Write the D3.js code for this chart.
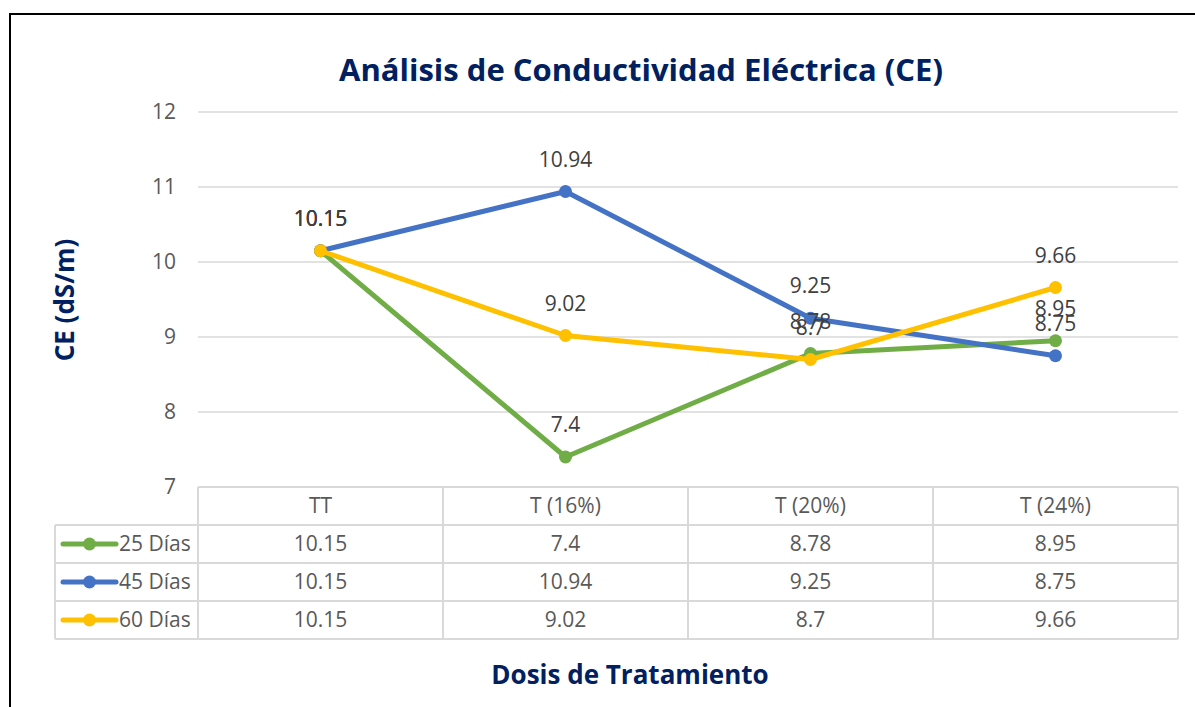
<!DOCTYPE html>
<html>
<head>
<meta charset="utf-8">
<script src="https://cdn.jsdelivr.net/npm/d3@7"></script>
<style>
  html, body { margin: 0; padding: 0; background: #fff; }
  svg { display: block; }
</style>
</head>
<body>
<svg id="chart" width="1195" height="707"></svg>
<script>
(() => {
  const categories = ['TT', 'T (16%)', 'T (20%)', 'T (24%)'];
  const seriesNames = ['25 Días', '45 Días', '60 Días'];
  const colors = ['#70AD47', '#4472C4', '#FFC000'];
  const dias25 = [10.15, 7.4, 8.78, 8.95];
  const dias45 = [10.15, 10.94, 9.25, 8.75];
  const dias60 = [10.15, 9.02, 8.7, 9.66];
  const yTicks = [7, 8, 9, 10, 11, 12];

  const series = [dias25, dias45, dias60].map((values, i) => ({
    name: seriesNames[i], color: colors[i], values
  }));

  const svg = d3.select('#chart');
  const font = '"Open Sans", sans-serif';
  const titleFont = '"Open Sans", sans-serif';
  const navy = '#002060';
  const gridColor = '#d9d9d9';
  const fs = 21;

  // outer frame (only top & left visible in the picture)
  svg.append('path')
    .attr('d', 'M10,707 V14 H1195')
    .attr('fill', 'none')
    .attr('stroke', '#000')
    .attr('stroke-width', 2);

  const left = 198, right = 1178, top = 112, bottom = 487;
  const rowH = 38;
  const legendLeft = 55;

  const x = d3.scaleBand().domain(categories).range([left, right]);
  const y = d3.scaleLinear().domain([7, 12]).range([bottom, top]);

  // gridlines
  svg.append('g')
    .selectAll('line')
    .data(yTicks)
    .join('line')
    .attr('x1', left).attr('x2', right)
    .attr('y1', d => y(d)).attr('y2', d => y(d))
    .attr('stroke', gridColor)
    .attr('stroke-width', 1.5);

  // y tick labels
  const yAxis = svg.append('g')
    .attr('transform', `translate(${left - 22},0)`)
    .call(d3.axisLeft(y).tickValues(yTicks).tickFormat(d3.format('d')).tickSize(0).tickPadding(0));
  yAxis.select('.domain').remove();
  yAxis.selectAll('text')
    .attr('font-family', font)
    .attr('font-size', fs)
    .attr('fill', '#595959');

  // data table
  const table = svg.append('g').attr('stroke', gridColor).attr('stroke-width', 2).attr('fill', 'none');
  const tableBottom = bottom + rowH * 4;
  table.append('line').attr('x1', left).attr('x2', right).attr('y1', bottom).attr('y2', bottom);
  for (let r = 1; r <= 4; r++) {
    table.append('line')
      .attr('x1', legendLeft).attr('x2', right)
      .attr('y1', bottom + rowH * r).attr('y2', bottom + rowH * r);
  }
  table.append('line').attr('x1', legendLeft).attr('x2', legendLeft)
    .attr('y1', bottom + rowH).attr('y2', tableBottom);
  categories.forEach(c => {
    table.append('line').attr('x1', x(c)).attr('x2', x(c))
      .attr('y1', bottom).attr('y2', tableBottom);
  });
  table.append('line').attr('x1', right).attr('x2', right)
    .attr('y1', bottom).attr('y2', tableBottom);

  // header
  svg.append('g')
    .selectAll('text')
    .data(categories)
    .join('text')
    .attr('x', d => x(d) + x.bandwidth() / 2)
    .attr('y', bottom + rowH / 2)
    .attr('dy', '0.35em')
    .attr('text-anchor', 'middle')
    .attr('font-family', font)
    .attr('font-size', fs)
    .attr('fill', '#595959')
    .text(d => d);

  // rows
  series.forEach((s, i) => {
    const cy = bottom + rowH * (i + 1) + rowH / 2;
    const g = svg.append('g');
    g.append('line')
      .attr('x1', 63).attr('x2', 116).attr('y1', cy).attr('y2', cy)
      .attr('stroke', s.color).attr('stroke-width', 5).attr('stroke-linecap', 'round');
    g.append('circle').attr('cx', 89.5).attr('cy', cy).attr('r', 6.5).attr('fill', s.color);
    g.append('text')
      .attr('x', 119).attr('y', cy).attr('dy', '0.35em')
      .attr('font-family', font).attr('font-size', fs).attr('fill', '#595959')
      .text(s.name);
    g.selectAll('text.val')
      .data(s.values)
      .join('text')
      .attr('class', 'val')
      .attr('x', (d, j) => x(categories[j]) + x.bandwidth() / 2)
      .attr('y', cy).attr('dy', '0.35em')
      .attr('text-anchor', 'middle')
      .attr('font-family', font).attr('font-size', fs).attr('fill', '#595959')
      .text(d => d);
  });

  // lines and markers
  const line = d3.line()
    .x((d, j) => x(categories[j]) + x.bandwidth() / 2)
    .y(d => y(d));

  series.forEach(s => {
    svg.append('path')
      .datum(s.values)
      .attr('d', line)
      .attr('fill', 'none')
      .attr('stroke', s.color)
      .attr('stroke-width', 5)
      .attr('stroke-linejoin', 'round')
      .attr('stroke-linecap', 'round');
    svg.append('g')
      .selectAll('circle')
      .data(s.values)
      .join('circle')
      .attr('cx', (d, j) => x(categories[j]) + x.bandwidth() / 2)
      .attr('cy', d => y(d))
      .attr('r', 6.5)
      .attr('fill', s.color);
  });

  // data labels
  series.forEach(s => {
    svg.append('g')
      .selectAll('text')
      .data(s.values)
      .join('text')
      .attr('x', (d, j) => x(categories[j]) + x.bandwidth() / 2)
      .attr('y', d => y(d) - 25)
      .attr('text-anchor', 'middle')
      .attr('font-family', font)
      .attr('font-size', fs)
      .attr('fill', '#404040')
      .text(d => d);
  });

  // titles
  svg.append('text')
    .attr('x', 641).attr('y', 81)
    .attr('text-anchor', 'middle')
    .attr('font-family', titleFont).attr('font-weight', 'bold')
    .attr('font-size', 31).attr('fill', navy)
    .text('Análisis de Conductividad Eléctrica (CE)');

  svg.append('text')
    .attr('transform', 'translate(74,300) rotate(-90)')
    .attr('text-anchor', 'middle')
    .attr('font-family', titleFont).attr('font-weight', 'bold')
    .attr('font-size', 26).attr('fill', navy)
    .text('CE (dS/m)');

  svg.append('text')
    .attr('x', 630).attr('y', 684)
    .attr('text-anchor', 'middle')
    .attr('font-family', titleFont).attr('font-weight', 'bold')
    .attr('font-size', 26).attr('fill', navy)
    .text('Dosis de Tratamiento');
})();
</script>
</body>
</html>
